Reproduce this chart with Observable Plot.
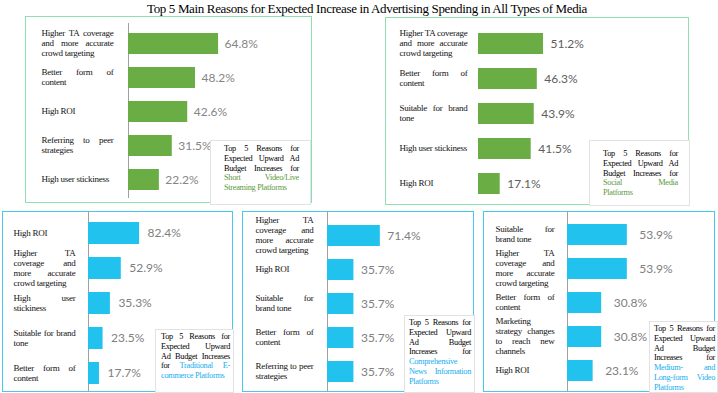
<!DOCTYPE html>
<html><head><meta charset="utf-8">
<script src="https://cdn.jsdelivr.net/npm/d3@7"></script>
<script src="https://cdn.jsdelivr.net/npm/@observablehq/plot@0.6"></script>
<style>
body{margin:0;background:#fff;}
#chart{position:relative;width:718px;height:393px;overflow:hidden;background:#fff;}
.title{position:absolute;left:8px;top:1px;width:718px;text-align:center;font-family:"Liberation Serif",serif;font-size:13px;letter-spacing:-0.35px;line-height:16px;color:#000;white-space:nowrap;}
.border{position:absolute;box-sizing:border-box;}
.panel{position:absolute;}
.legend{position:absolute;background:#fff;border:1px solid #e2e2e2;box-sizing:border-box;font-family:"Liberation Serif",serif;font-size:8.3px;letter-spacing:-0.3px;line-height:9.8px;color:#000;}
.legend .ln{text-align:justify;text-align-last:justify;white-space:nowrap;overflow:visible;}
.legend .ln.last{text-align-last:left;}
</style>
</head><body>
<div id="chart"></div>
<script>
const chartTitle = "Top 5 Main Reasons for Expected Increase in Advertising Spending in All Types of Media";

// Short video / live streaming platforms
const shortVideoReasons = ["Higher TA coverage\nand more accurate\ncrowd targeting", "Better form of\ncontent", "High ROI", "Referring to peer\nstrategies", "High user stickiness"];
const shortVideoShares = [64.8, 48.2, 42.6, 31.5, 22.2];
const shortVideoNote = [["Top 5 Reasons for"], ["Expected Upward Ad"], ["Budget Increases for"], [null, "Short Video/Live"], [null, "Streaming Platforms"]];

// Social media platforms
const socialReasons = ["Higher TA coverage\nand more accurate\ncrowd targeting", "Better form of\ncontent", "Suitable for brand\ntone", "High user stickiness", "High ROI"];
const socialShares = [51.2, 46.3, 43.9, 41.5, 17.1];
const socialNote = [["Top 5 Reasons for"], ["Expected Upward Ad"], ["Budget Increases for"], [null, "Social Media"], [null, "Platforms"]];

// Traditional e-commerce platforms
const ecomReasons = ["High ROI", "Higher TA\ncoverage and\nmore accurate\ncrowd targeting", "High user\nstickiness", "Suitable for brand\ntone", "Better form of\ncontent"];
const ecomShares = [82.4, 52.9, 35.3, 23.5, 17.7];
const ecomNote = [["Top 5 Reasons for"], ["Expected Upward"], ["Ad Budget Increases"], ["for ", "Traditional E-"], [null, "commerce Platforms"]];

// Comprehensive news information platforms
const newsReasons = ["Higher TA\ncoverage and\nmore accurate\ncrowd targeting", "High ROI", "Suitable for\nbrand tone", "Better form of\ncontent", "Referring to peer\nstrategies"];
const newsShares = [71.4, 35.7, 35.7, 35.7, 35.7];
const newsNote = [["Top 5 Reasons for"], ["Expected Upward"], ["Ad Budget"], ["Increases for"], [null, "Comprehensive"], [null, "News Information"], [null, "Platforms"]];

// Medium- and long-form video platforms
const longVideoReasons = ["Suitable for\nbrand tone", "Higher TA\ncoverage and\nmore accurate\ncrowd targeting", "Better form of\ncontent", "Marketing\nstrategy changes\nto reach new\nchannels", "High ROI"];
const longVideoShares = [53.9, 53.9, 30.8, 30.8, 23.1];
const longVideoNote = [["Top 5 Reasons for"], ["Expected Upward"], ["Ad Budget"], ["Increases for"], [null, "Medium- and"], [null, "Long-form Video"], [null, "Platforms"]];

const GREEN = "#6aad45", BLUE = "#22c2ef";
const GREEN_BORDER = "#8fdfb2", BLUE_BORDER = "#45c9f0";
const GREEN_TEXT = "#5a9a3a", BLUE_TEXT = "#14aef0";

const panels = [
  {reasons: shortVideoReasons, shares: shortVideoShares, note: shortVideoNote, color: GREEN, border: GREEN_BORDER, noteColor: GREEN_TEXT,
   left: 25, top: 16, w: 287, h: 187, ml: 103, mt: 16, mb: 13, pad: 0.387, ppp: 1.39, labelOff: 87, labelW: 72, valueDx: 6, valueColor: "#858585",
   axis: true, axisTop: 9, axisBottom: 8,
   legend: {left: 210, top: 140, w: 101, h: 65, pl: 13, pt: 3, tw: 75}},
  {reasons: socialReasons, shares: socialShares, note: socialNote, color: GREEN, border: GREEN_BORDER, noteColor: GREEN_TEXT,
   left: 385, top: 17, w: 304, h: 188, ml: 93, mt: 15, mb: 9, pad: 0.396, ppp: 1.27, labelOff: 79, labelW: 68, valueDx: 7, valueColor: "#5e5e5e",
   axis: false,
   legend: {left: 589, top: 140, w: 101, h: 66, pl: 13, pt: 8, tw: 75}},
  {reasons: ecomReasons, shares: ecomShares, note: ecomNote, color: BLUE, border: BLUE_BORDER, noteColor: BLUE_TEXT,
   left: 2, top: 211, w: 231, h: 181, ml: 86, mt: 10, mb: 7, pad: 0.38, ppp: 0.62, labelOff: 75, labelW: 62, valueDx: 8, valueColor: "#808080",
   axis: true, axisTop: 10, axisBottom: 7,
   legend: {left: 155, top: 329, w: 79, h: 64, pl: 5, pt: 2, tw: 69}},
  {reasons: newsReasons, shares: newsShares, note: newsNote, color: BLUE, border: BLUE_BORDER, noteColor: BLUE_TEXT,
   left: 242, top: 211, w: 232, h: 181, ml: 85, mt: 13, mb: 9, pad: 0.39, ppp: 0.74, labelOff: 72, labelW: 58, valueDx: 7, valueColor: "#808080",
   axis: true, axisTop: 13, axisBottom: 9,
   legend: {left: 404, top: 315, w: 71, h: 78, pl: 4, pt: 2, tw: 62}},
  {reasons: longVideoReasons, shares: longVideoShares, note: longVideoNote, color: BLUE, border: BLUE_BORDER, noteColor: BLUE_TEXT,
   left: 483, top: 211, w: 232, h: 181, ml: 84, mt: 11, mb: 9, pad: 0.39, ppp: 1.11, labelOff: 72, labelW: 59, valueDx: 12, valueColor: "#808080",
   axis: true, axisTop: 11, axisBottom: 9,
   legend: {left: 649, top: 321, w: 69, h: 72, pl: 4, pt: 2, tw: 61}}
];

const chart = document.getElementById("chart");
const t = document.createElement("div");
t.className = "title"; t.textContent = chartTitle;
chart.appendChild(t);

const SVGNS = "http://www.w3.org/2000/svg";
function justifyLabels(group, width) {
  group.querySelectorAll("text").forEach(txt => {
    const spans = [...txt.children].filter(c => c.tagName.toLowerCase() === "tspan");
    if (spans.length < 2) return;
    spans.slice(0, -1).forEach(s => {
      const words = s.textContent.split(/ +/).filter(Boolean);
      const n = words.length - 1;
      if (n < 1) return;
      const len = s.getComputedTextLength();
      if (len >= width) return;
      const extra = (width - len) / n;
      s.textContent = "";
      words.forEach((w, k) => {
        const ts = document.createElementNS(SVGNS, "tspan");
        if (k > 0) ts.setAttribute("dx", extra.toFixed(2));
        ts.textContent = (k > 0 ? " " : "") + w;
        s.appendChild(ts);
      });
    });
  });
}

panels.forEach(cfg => {
  const b = document.createElement("div");
  b.className = "border";
  Object.assign(b.style, {left: cfg.left + "px", top: cfg.top + "px", width: cfg.w + "px", height: cfg.h + "px", border: `1.5px solid ${cfg.border}`});
  chart.appendChild(b);

  const rows = cfg.reasons.map((r, i) => ({reason: r, share: cfg.shares[i]}));
  const marks = [];
  if (cfg.axis) marks.push(Plot.ruleX([0], {stroke: "#a0a0a0", strokeWidth: 1, insetTop: -cfg.axisTop, insetBottom: -cfg.axisBottom}));
  marks.push(Plot.barX(rows, {x: "share", y: "reason", fill: cfg.color}));
  marks.push(Plot.text(rows, {x: () => 0, y: "reason", text: "reason", dx: -cfg.labelOff, textAnchor: "start", lineAnchor: "middle", lineHeight: 1.12, fill: "#111", fontFamily: "Liberation Serif", fontSize: 9, dy: -1}));
  marks.push(Plot.text(rows, {x: "share", y: "reason", text: d => d.share.toFixed(1) + "%", dx: cfg.valueDx, textAnchor: "start", fill: cfg.valueColor, fontFamily: "Lato", fontSize: 12}));

  const plot = Plot.plot({
    width: cfg.w, height: cfg.h,
    marginLeft: cfg.ml, marginRight: 0, marginTop: cfg.mt, marginBottom: cfg.mb,
    style: {background: "transparent", overflow: "visible"},
    x: {domain: [0, (cfg.w - cfg.ml) / cfg.ppp], axis: null},
    y: {domain: cfg.reasons, axis: null, paddingInner: cfg.pad, paddingOuter: 0},
    marks
  });
  const wrap = document.createElement("div");
  wrap.className = "panel";
  Object.assign(wrap.style, {left: cfg.left + "px", top: cfg.top + "px"});
  wrap.appendChild(plot);
  chart.appendChild(wrap);
  const textGroups = plot.querySelectorAll('g[aria-label="text"]');
  const labelGroup = textGroups[0];
  if (labelGroup) {
    labelGroup.setAttribute("letter-spacing", "-0.25");
    justifyLabels(labelGroup, cfg.labelW);
  }

  const L = cfg.legend;
  const lg = document.createElement("div");
  lg.className = "legend";
  Object.assign(lg.style, {left: L.left + "px", top: L.top + "px", width: L.w + "px", height: L.h + "px", paddingLeft: L.pl + "px", paddingTop: L.pt + "px"});
  cfg.note.forEach((parts, i) => {
    const ln = document.createElement("div");
    ln.className = "ln" + (i === cfg.note.length - 1 ? " last" : "");
    ln.style.width = L.tw + "px";
    if (parts[0]) ln.appendChild(document.createTextNode(parts[0]));
    if (parts[1]) {
      const sp = document.createElement("span");
      sp.style.color = cfg.noteColor;
      sp.textContent = parts[1];
      ln.appendChild(sp);
    }
    lg.appendChild(ln);
  });
  chart.appendChild(lg);
});
</script>
</body></html>
